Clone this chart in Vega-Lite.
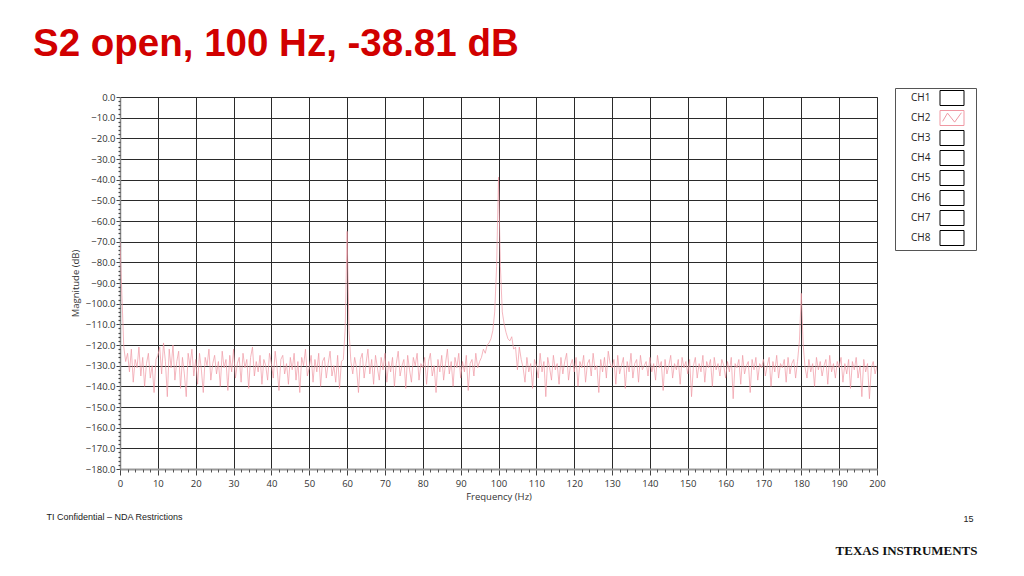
{
"$schema": "https://vega.github.io/schema/vega-lite/v6.json",
"width": 757, "height": 372,
"autosize": {"type": "none"},
"padding": {"left": 120, "top": 97, "right": 147, "bottom": 107},
"background": "white",
"config": {"view": {"stroke": "#777", "strokeWidth": 1}},
"title": {"text": "S2 open, 100 Hz, -38.81 dB", "anchor": "start", "frame": "group", "orient": "top", "dx": -87, "offset": -7, "baseline": "alphabetic", "font": "Liberation Sans", "fontSize": 38.5, "fontWeight": "bold", "color": "#d10000"},
"data": {"values": [
{"f":0,"m":-70,"ch":"CH2"},{"f":0.5,"m":-96,"ch":"CH2"},{"f":1,"m":-121,"ch":"CH2"},{"f":1.5,"m":-128,"ch":"CH2"},{"f":2,"m":-124,"ch":"CH2"},{"f":2.5,"m":-133,"ch":"CH2"},{"f":3,"m":-122,"ch":"CH2"},{"f":3.5,"m":-138,"ch":"CH2"},{"f":4,"m":-127,"ch":"CH2"},{"f":4.5,"m":-131,"ch":"CH2"},{"f":5,"m":-121,"ch":"CH2"},{"f":5.5,"m":-135,"ch":"CH2"},{"f":6,"m":-126,"ch":"CH2"},{"f":6.5,"m":-140,"ch":"CH2"},{"f":7,"m":-129,"ch":"CH2"},{"f":7.5,"m":-124,"ch":"CH2"},{"f":8,"m":-136,"ch":"CH2"},{"f":8.5,"m":-130,"ch":"CH2"},{"f":9,"m":-143,"ch":"CH2"},{"f":9.5,"m":-127,"ch":"CH2"},
{"f":10,"m":-125,"ch":"CH2"},{"f":10.5,"m":-121,"ch":"CH2"},{"f":11,"m":-134,"ch":"CH2"},{"f":11.5,"m":-119,"ch":"CH2"},{"f":12,"m":-128,"ch":"CH2"},{"f":12.5,"m":-145,"ch":"CH2"},{"f":13,"m":-122,"ch":"CH2"},{"f":13.5,"m":-131,"ch":"CH2"},{"f":14,"m":-120,"ch":"CH2"},{"f":14.5,"m":-137,"ch":"CH2"},{"f":15,"m":-128,"ch":"CH2"},{"f":15.5,"m":-123,"ch":"CH2"},{"f":16,"m":-141,"ch":"CH2"},{"f":16.5,"m":-126,"ch":"CH2"},{"f":17,"m":-134,"ch":"CH2"},{"f":17.5,"m":-145,"ch":"CH2"},{"f":18,"m":-124,"ch":"CH2"},{"f":18.5,"m":-130,"ch":"CH2"},{"f":19,"m":-122,"ch":"CH2"},{"f":19.5,"m":-135,"ch":"CH2"},
{"f":20,"m":-127,"ch":"CH2"},{"f":20.5,"m":-139,"ch":"CH2"},{"f":21,"m":-124,"ch":"CH2"},{"f":21.5,"m":-132,"ch":"CH2"},{"f":22,"m":-143,"ch":"CH2"},{"f":22.5,"m":-126,"ch":"CH2"},{"f":23,"m":-130,"ch":"CH2"},{"f":23.5,"m":-122,"ch":"CH2"},{"f":24,"m":-137,"ch":"CH2"},{"f":24.5,"m":-129,"ch":"CH2"},{"f":25,"m":-125,"ch":"CH2"},{"f":25.5,"m":-134,"ch":"CH2"},{"f":26,"m":-128,"ch":"CH2"},{"f":26.5,"m":-140,"ch":"CH2"},{"f":27,"m":-123,"ch":"CH2"},{"f":27.5,"m":-131,"ch":"CH2"},{"f":28,"m":-127,"ch":"CH2"},{"f":28.5,"m":-142,"ch":"CH2"},{"f":29,"m":-125,"ch":"CH2"},{"f":29.5,"m":-133,"ch":"CH2"},
{"f":30,"m":-122,"ch":"CH2"},{"f":30.5,"m":-136,"ch":"CH2"},{"f":31,"m":-129,"ch":"CH2"},{"f":31.5,"m":-126,"ch":"CH2"},{"f":32,"m":-138,"ch":"CH2"},{"f":32.5,"m":-124,"ch":"CH2"},{"f":33,"m":-131,"ch":"CH2"},{"f":33.5,"m":-127,"ch":"CH2"},{"f":34,"m":-141,"ch":"CH2"},{"f":34.5,"m":-126,"ch":"CH2"},{"f":35,"m":-121,"ch":"CH2"},{"f":35.5,"m":-135,"ch":"CH2"},{"f":36,"m":-128,"ch":"CH2"},{"f":36.5,"m":-133,"ch":"CH2"},{"f":37,"m":-125,"ch":"CH2"},{"f":37.5,"m":-139,"ch":"CH2"},{"f":38,"m":-127,"ch":"CH2"},{"f":38.5,"m":-130,"ch":"CH2"},{"f":39,"m":-137,"ch":"CH2"},{"f":39.5,"m":-124,"ch":"CH2"},
{"f":40,"m":-129,"ch":"CH2"},{"f":40.5,"m":-136,"ch":"CH2"},{"f":41,"m":-123,"ch":"CH2"},{"f":41.5,"m":-131,"ch":"CH2"},{"f":42,"m":-142,"ch":"CH2"},{"f":42.5,"m":-127,"ch":"CH2"},{"f":43,"m":-125,"ch":"CH2"},{"f":43.5,"m":-134,"ch":"CH2"},{"f":44,"m":-129,"ch":"CH2"},{"f":44.5,"m":-139,"ch":"CH2"},{"f":45,"m":-126,"ch":"CH2"},{"f":45.5,"m":-132,"ch":"CH2"},{"f":46,"m":-124,"ch":"CH2"},{"f":46.5,"m":-137,"ch":"CH2"},{"f":47,"m":-128,"ch":"CH2"},{"f":47.5,"m":-143,"ch":"CH2"},{"f":48,"m":-126,"ch":"CH2"},{"f":48.5,"m":-130,"ch":"CH2"},{"f":49,"m":-122,"ch":"CH2"},{"f":49.5,"m":-135,"ch":"CH2"},
{"f":50,"m":-131,"ch":"CH2"},{"f":50.5,"m":-125,"ch":"CH2"},{"f":51,"m":-138,"ch":"CH2"},{"f":51.5,"m":-127,"ch":"CH2"},{"f":52,"m":-133,"ch":"CH2"},{"f":52.5,"m":-124,"ch":"CH2"},{"f":53,"m":-140,"ch":"CH2"},{"f":53.5,"m":-128,"ch":"CH2"},{"f":54,"m":-126,"ch":"CH2"},{"f":54.5,"m":-136,"ch":"CH2"},{"f":55,"m":-129,"ch":"CH2"},{"f":55.5,"m":-123,"ch":"CH2"},{"f":56,"m":-135,"ch":"CH2"},{"f":56.5,"m":-130,"ch":"CH2"},{"f":57,"m":-138,"ch":"CH2"},{"f":57.5,"m":-125,"ch":"CH2"},{"f":58,"m":-141,"ch":"CH2"},{"f":58.5,"m":-128,"ch":"CH2"},{"f":59,"m":-127,"ch":"CH2"},{"f":59.5,"m":-112,"ch":"CH2"},
{"f":60,"m":-65,"ch":"CH2"},{"f":60.5,"m":-113,"ch":"CH2"},{"f":61,"m":-128,"ch":"CH2"},{"f":61.5,"m":-134,"ch":"CH2"},{"f":62,"m":-126,"ch":"CH2"},{"f":62.5,"m":-131,"ch":"CH2"},{"f":63,"m":-143,"ch":"CH2"},{"f":63.5,"m":-127,"ch":"CH2"},{"f":64,"m":-124,"ch":"CH2"},{"f":64.5,"m":-136,"ch":"CH2"},{"f":65,"m":-129,"ch":"CH2"},{"f":65.5,"m":-122,"ch":"CH2"},{"f":66,"m":-134,"ch":"CH2"},{"f":66.5,"m":-127,"ch":"CH2"},{"f":67,"m":-139,"ch":"CH2"},{"f":67.5,"m":-125,"ch":"CH2"},{"f":68,"m":-131,"ch":"CH2"},{"f":68.5,"m":-137,"ch":"CH2"},{"f":69,"m":-126,"ch":"CH2"},{"f":69.5,"m":-132,"ch":"CH2"},
{"f":70,"m":-124,"ch":"CH2"},{"f":70.5,"m":-138,"ch":"CH2"},{"f":71,"m":-128,"ch":"CH2"},{"f":71.5,"m":-133,"ch":"CH2"},{"f":72,"m":-126,"ch":"CH2"},{"f":72.5,"m":-140,"ch":"CH2"},{"f":73,"m":-129,"ch":"CH2"},{"f":73.5,"m":-123,"ch":"CH2"},{"f":74,"m":-135,"ch":"CH2"},{"f":74.5,"m":-130,"ch":"CH2"},{"f":75,"m":-127,"ch":"CH2"},{"f":75.5,"m":-141,"ch":"CH2"},{"f":76,"m":-125,"ch":"CH2"},{"f":76.5,"m":-132,"ch":"CH2"},{"f":77,"m":-138,"ch":"CH2"},{"f":77.5,"m":-126,"ch":"CH2"},{"f":78,"m":-130,"ch":"CH2"},{"f":78.5,"m":-124,"ch":"CH2"},{"f":79,"m":-137,"ch":"CH2"},{"f":79.5,"m":-129,"ch":"CH2"},
{"f":80,"m":-131,"ch":"CH2"},{"f":80.5,"m":-126,"ch":"CH2"},{"f":81,"m":-139,"ch":"CH2"},{"f":81.5,"m":-128,"ch":"CH2"},{"f":82,"m":-124,"ch":"CH2"},{"f":82.5,"m":-135,"ch":"CH2"},{"f":83,"m":-130,"ch":"CH2"},{"f":83.5,"m":-143,"ch":"CH2"},{"f":84,"m":-127,"ch":"CH2"},{"f":84.5,"m":-133,"ch":"CH2"},{"f":85,"m":-125,"ch":"CH2"},{"f":85.5,"m":-137,"ch":"CH2"},{"f":86,"m":-129,"ch":"CH2"},{"f":86.5,"m":-122,"ch":"CH2"},{"f":87,"m":-134,"ch":"CH2"},{"f":87.5,"m":-128,"ch":"CH2"},{"f":88,"m":-140,"ch":"CH2"},{"f":88.5,"m":-126,"ch":"CH2"},{"f":89,"m":-131,"ch":"CH2"},{"f":89.5,"m":-124,"ch":"CH2"},
{"f":90,"m":-136,"ch":"CH2"},{"f":90.5,"m":-128,"ch":"CH2"},{"f":91,"m":-133,"ch":"CH2"},{"f":91.5,"m":-125,"ch":"CH2"},{"f":92,"m":-142,"ch":"CH2"},{"f":92.5,"m":-129,"ch":"CH2"},{"f":93,"m":-127,"ch":"CH2"},{"f":93.5,"m":-135,"ch":"CH2"},{"f":94,"m":-124,"ch":"CH2"},{"f":94.5,"m":-131,"ch":"CH2"},{"f":95,"m":-128,"ch":"CH2"},{"f":95.5,"m":-126,"ch":"CH2"},{"f":96,"m":-122,"ch":"CH2"},{"f":96.5,"m":-124,"ch":"CH2"},{"f":97,"m":-120,"ch":"CH2"},{"f":97.5,"m":-119,"ch":"CH2"},{"f":98,"m":-117,"ch":"CH2"},{"f":98.5,"m":-113,"ch":"CH2"},{"f":99,"m":-104,"ch":"CH2"},{"f":99.5,"m":-82,"ch":"CH2"},
{"f":100,"m":-38.81,"ch":"CH2"},{"f":100.5,"m":-82,"ch":"CH2"},{"f":101,"m":-104,"ch":"CH2"},{"f":101.5,"m":-110,"ch":"CH2"},{"f":102,"m":-114,"ch":"CH2"},{"f":102.5,"m":-117,"ch":"CH2"},{"f":103,"m":-118,"ch":"CH2"},{"f":103.5,"m":-116,"ch":"CH2"},{"f":104,"m":-122,"ch":"CH2"},{"f":104.5,"m":-121,"ch":"CH2"},{"f":105,"m":-132,"ch":"CH2"},{"f":105.5,"m":-121,"ch":"CH2"},{"f":106,"m":-127,"ch":"CH2"},{"f":106.5,"m":-131,"ch":"CH2"},{"f":107,"m":-138,"ch":"CH2"},{"f":107.5,"m":-126,"ch":"CH2"},{"f":108,"m":-133,"ch":"CH2"},{"f":108.5,"m":-129,"ch":"CH2"},{"f":109,"m":-141,"ch":"CH2"},{"f":109.5,"m":-127,"ch":"CH2"},
{"f":110,"m":-130,"ch":"CH2"},{"f":110.5,"m":-136,"ch":"CH2"},{"f":111,"m":-124,"ch":"CH2"},{"f":111.5,"m":-133,"ch":"CH2"},{"f":112,"m":-128,"ch":"CH2"},{"f":112.5,"m":-145,"ch":"CH2"},{"f":113,"m":-126,"ch":"CH2"},{"f":113.5,"m":-131,"ch":"CH2"},{"f":114,"m":-137,"ch":"CH2"},{"f":114.5,"m":-125,"ch":"CH2"},{"f":115,"m":-132,"ch":"CH2"},{"f":115.5,"m":-129,"ch":"CH2"},{"f":116,"m":-139,"ch":"CH2"},{"f":116.5,"m":-126,"ch":"CH2"},{"f":117,"m":-134,"ch":"CH2"},{"f":117.5,"m":-128,"ch":"CH2"},{"f":118,"m":-124,"ch":"CH2"},{"f":118.5,"m":-137,"ch":"CH2"},{"f":119,"m":-130,"ch":"CH2"},{"f":119.5,"m":-127,"ch":"CH2"},
{"f":120,"m":-133,"ch":"CH2"},{"f":120.5,"m":-126,"ch":"CH2"},{"f":121,"m":-140,"ch":"CH2"},{"f":121.5,"m":-128,"ch":"CH2"},{"f":122,"m":-131,"ch":"CH2"},{"f":122.5,"m":-125,"ch":"CH2"},{"f":123,"m":-138,"ch":"CH2"},{"f":123.5,"m":-129,"ch":"CH2"},{"f":124,"m":-127,"ch":"CH2"},{"f":124.5,"m":-135,"ch":"CH2"},{"f":125,"m":-124,"ch":"CH2"},{"f":125.5,"m":-132,"ch":"CH2"},{"f":126,"m":-130,"ch":"CH2"},{"f":126.5,"m":-143,"ch":"CH2"},{"f":127,"m":-127,"ch":"CH2"},{"f":127.5,"m":-133,"ch":"CH2"},{"f":128,"m":-126,"ch":"CH2"},{"f":128.5,"m":-136,"ch":"CH2"},{"f":129,"m":-123,"ch":"CH2"},{"f":129.5,"m":-129,"ch":"CH2"},
{"f":130,"m":-131,"ch":"CH2"},{"f":130.5,"m":-127,"ch":"CH2"},{"f":131,"m":-139,"ch":"CH2"},{"f":131.5,"m":-125,"ch":"CH2"},{"f":132,"m":-134,"ch":"CH2"},{"f":132.5,"m":-130,"ch":"CH2"},{"f":133,"m":-126,"ch":"CH2"},{"f":133.5,"m":-141,"ch":"CH2"},{"f":134,"m":-128,"ch":"CH2"},{"f":134.5,"m":-133,"ch":"CH2"},{"f":135,"m":-124,"ch":"CH2"},{"f":135.5,"m":-136,"ch":"CH2"},{"f":136,"m":-129,"ch":"CH2"},{"f":136.5,"m":-127,"ch":"CH2"},{"f":137,"m":-138,"ch":"CH2"},{"f":137.5,"m":-125,"ch":"CH2"},{"f":138,"m":-132,"ch":"CH2"},{"f":138.5,"m":-130,"ch":"CH2"},{"f":139,"m":-128,"ch":"CH2"},{"f":139.5,"m":-135,"ch":"CH2"},
{"f":140,"m":-126,"ch":"CH2"},{"f":140.5,"m":-133,"ch":"CH2"},{"f":141,"m":-129,"ch":"CH2"},{"f":141.5,"m":-137,"ch":"CH2"},{"f":142,"m":-125,"ch":"CH2"},{"f":142.5,"m":-131,"ch":"CH2"},{"f":143,"m":-128,"ch":"CH2"},{"f":143.5,"m":-142,"ch":"CH2"},{"f":144,"m":-127,"ch":"CH2"},{"f":144.5,"m":-134,"ch":"CH2"},{"f":145,"m":-130,"ch":"CH2"},{"f":145.5,"m":-125,"ch":"CH2"},{"f":146,"m":-136,"ch":"CH2"},{"f":146.5,"m":-129,"ch":"CH2"},{"f":147,"m":-132,"ch":"CH2"},{"f":147.5,"m":-127,"ch":"CH2"},{"f":148,"m":-139,"ch":"CH2"},{"f":148.5,"m":-126,"ch":"CH2"},{"f":149,"m":-131,"ch":"CH2"},{"f":149.5,"m":-128,"ch":"CH2"},
{"f":150,"m":-134,"ch":"CH2"},{"f":150.5,"m":-127,"ch":"CH2"},{"f":151,"m":-145,"ch":"CH2"},{"f":151.5,"m":-130,"ch":"CH2"},{"f":152,"m":-126,"ch":"CH2"},{"f":152.5,"m":-136,"ch":"CH2"},{"f":153,"m":-129,"ch":"CH2"},{"f":153.5,"m":-133,"ch":"CH2"},{"f":154,"m":-125,"ch":"CH2"},{"f":154.5,"m":-138,"ch":"CH2"},{"f":155,"m":-128,"ch":"CH2"},{"f":155.5,"m":-131,"ch":"CH2"},{"f":156,"m":-127,"ch":"CH2"},{"f":156.5,"m":-140,"ch":"CH2"},{"f":157,"m":-126,"ch":"CH2"},{"f":157.5,"m":-132,"ch":"CH2"},{"f":158,"m":-129,"ch":"CH2"},{"f":158.5,"m":-135,"ch":"CH2"},{"f":159,"m":-127,"ch":"CH2"},{"f":159.5,"m":-130,"ch":"CH2"},
{"f":160,"m":-136,"ch":"CH2"},{"f":160.5,"m":-128,"ch":"CH2"},{"f":161,"m":-133,"ch":"CH2"},{"f":161.5,"m":-126,"ch":"CH2"},{"f":162,"m":-146,"ch":"CH2"},{"f":162.5,"m":-129,"ch":"CH2"},{"f":163,"m":-131,"ch":"CH2"},{"f":163.5,"m":-127,"ch":"CH2"},{"f":164,"m":-139,"ch":"CH2"},{"f":164.5,"m":-125,"ch":"CH2"},{"f":165,"m":-134,"ch":"CH2"},{"f":165.5,"m":-130,"ch":"CH2"},{"f":166,"m":-128,"ch":"CH2"},{"f":166.5,"m":-143,"ch":"CH2"},{"f":167,"m":-127,"ch":"CH2"},{"f":167.5,"m":-132,"ch":"CH2"},{"f":168,"m":-126,"ch":"CH2"},{"f":168.5,"m":-137,"ch":"CH2"},{"f":169,"m":-129,"ch":"CH2"},{"f":169.5,"m":-131,"ch":"CH2"},
{"f":170,"m":-127,"ch":"CH2"},{"f":170.5,"m":-135,"ch":"CH2"},{"f":171,"m":-130,"ch":"CH2"},{"f":171.5,"m":-126,"ch":"CH2"},{"f":172,"m":-140,"ch":"CH2"},{"f":172.5,"m":-128,"ch":"CH2"},{"f":173,"m":-133,"ch":"CH2"},{"f":173.5,"m":-125,"ch":"CH2"},{"f":174,"m":-136,"ch":"CH2"},{"f":174.5,"m":-129,"ch":"CH2"},{"f":175,"m":-131,"ch":"CH2"},{"f":175.5,"m":-127,"ch":"CH2"},{"f":176,"m":-138,"ch":"CH2"},{"f":176.5,"m":-126,"ch":"CH2"},{"f":177,"m":-134,"ch":"CH2"},{"f":177.5,"m":-129,"ch":"CH2"},{"f":178,"m":-127,"ch":"CH2"},{"f":178.5,"m":-136,"ch":"CH2"},{"f":179,"m":-128,"ch":"CH2"},{"f":179.5,"m":-118,"ch":"CH2"},
{"f":180,"m":-95,"ch":"CH2"},{"f":180.5,"m":-120,"ch":"CH2"},{"f":181,"m":-131,"ch":"CH2"},{"f":181.5,"m":-136,"ch":"CH2"},{"f":182,"m":-127,"ch":"CH2"},{"f":182.5,"m":-133,"ch":"CH2"},{"f":183,"m":-129,"ch":"CH2"},{"f":183.5,"m":-140,"ch":"CH2"},{"f":184,"m":-126,"ch":"CH2"},{"f":184.5,"m":-132,"ch":"CH2"},{"f":185,"m":-128,"ch":"CH2"},{"f":185.5,"m":-135,"ch":"CH2"},{"f":186,"m":-130,"ch":"CH2"},{"f":186.5,"m":-127,"ch":"CH2"},{"f":187,"m":-139,"ch":"CH2"},{"f":187.5,"m":-125,"ch":"CH2"},{"f":188,"m":-133,"ch":"CH2"},{"f":188.5,"m":-129,"ch":"CH2"},{"f":189,"m":-136,"ch":"CH2"},{"f":189.5,"m":-128,"ch":"CH2"},
{"f":190,"m":-131,"ch":"CH2"},{"f":190.5,"m":-126,"ch":"CH2"},{"f":191,"m":-138,"ch":"CH2"},{"f":191.5,"m":-129,"ch":"CH2"},{"f":192,"m":-134,"ch":"CH2"},{"f":192.5,"m":-127,"ch":"CH2"},{"f":193,"m":-141,"ch":"CH2"},{"f":193.5,"m":-128,"ch":"CH2"},{"f":194,"m":-132,"ch":"CH2"},{"f":194.5,"m":-126,"ch":"CH2"},{"f":195,"m":-136,"ch":"CH2"},{"f":195.5,"m":-130,"ch":"CH2"},{"f":196,"m":-145,"ch":"CH2"},{"f":196.5,"m":-127,"ch":"CH2"},{"f":197,"m":-133,"ch":"CH2"},{"f":197.5,"m":-129,"ch":"CH2"},{"f":198,"m":-146,"ch":"CH2"},{"f":198.5,"m":-131,"ch":"CH2"},{"f":199,"m":-128,"ch":"CH2"},{"f":199.5,"m":-134,"ch":"CH2"},
{"f":200,"m":-130,"ch":"CH2"}
]},
"layer": [
{
"mark": {"type": "line", "strokeWidth": 0.7, "clip": true},
"encoding": {
"x": {"field": "f", "type": "quantitative", "scale": {"domain": [0, 200], "nice": false, "zero": false},
 "axis": {"orient": "bottom", "values": [0,10,20,30,40,50,60,70,80,90,100,110,120,130,140,150,160,170,180,190,200], "format": "d", "labelFlush": false, "labelOverlap": false, "grid": true, "gridColor": "#2a2a2a", "gridWidth": 1, "gridOpacity": 1, "domain": true, "domainColor": "#999", "domainWidth": 2, "ticks": true, "tickColor": "#444", "tickSize": 6, "labelFont": "Open Sans", "labelFontSize": 9.5, "labelColor": "#333", "labelPadding": 3, "title": "Frequency (Hz)", "titleFont": "Open Sans", "titleFontSize": 9.5, "titleFontWeight": "normal", "titleColor": "#333", "titlePadding": 4}},
"y": {"field": "m", "type": "quantitative", "scale": {"domain": [-180, 0], "nice": false, "zero": false},
 "axis": {"orient": "left", "values": [-180,-170,-160,-150,-140,-130,-120,-110,-100,-90,-80,-70,-60,-50,-40,-30,-20,-10,0], "format": ".1f", "labelFlush": false, "labelOverlap": false, "grid": true, "gridColor": "#2a2a2a", "gridWidth": 1, "gridOpacity": 1, "domain": true, "domainColor": "#888", "domainWidth": 1.5, "ticks": true, "tickColor": "#444", "tickSize": 4, "labelFont": "Open Sans", "labelFontSize": 9.5, "labelColor": "#333", "labelPadding": 1, "title": "Magnitude (dB)", "titleFont": "Open Sans", "titleFontSize": 9.5, "titleFontWeight": "normal", "titleColor": "#333", "titlePadding": 5}},
"color": {"field": "ch", "type": "nominal",
 "scale": {"domain": ["CH1","CH2","CH3","CH4","CH5","CH6","CH7","CH8"], "range": ["#000000","#ef98a3","#000000","#000000","#000000","#000000","#000000","#000000"]},
 "legend": {"orient": "none", "legendX": 775, "legendY": -9, "title": "x", "titleOpacity": 0, "titleOrient": "right", "titleFontSize": 6, "titlePadding": 4, "padding": 2, "strokeColor": "#555", "fillColor": "#ffffff", "symbolType": "M-1.6,-1H1.6V1H-1.6Z", "symbolSize": 225, "symbolStrokeWidth": 1, "symbolStrokeColor": "#222", "symbolFillColor": "#ffffff", "symbolOffset": 47, "labelOffset": -49, "rowPadding": 0, "labelFont": "Open Sans", "labelFontSize": 10, "labelColor": "#222",
  "encode": {"symbols": {"update": {"shape": [{"test": "datum.value === 'CH2'", "value": "M-1.6,-1H1.6V1H-1.6Z M-1.25,0.45L-0.6,-0.65L0.35,0.55L1.25,-0.7"}, {"value": "M-1.6,-1H1.6V1H-1.6Z"}], "stroke": {"value": "#222"}, "fill": {"value": "#ffffff"}, "strokeWidth": {"value": 1}, "opacity": {"value": 1}}}}}}
}
},
{
"mark": {"type": "point", "opacity": 0},
"encoding": {
"x": {"field": "f", "type": "quantitative",
 "axis": {"orient": "bottom", "values": [2,4,6,8,12,14,16,18,22,24,26,28,32,34,36,38,42,44,46,48,52,54,56,58,62,64,66,68,72,74,76,78,82,84,86,88,92,94,96,98,102,104,106,108,112,114,116,118,122,124,126,128,132,134,136,138,142,144,146,148,152,154,156,158,162,164,166,168,172,174,176,178,182,184,186,188,192,194,196,198], "grid": false, "domain": false, "labels": false, "ticks": true, "tickColor": "#555", "tickSize": 3, "title": "TI Confidential – NDA Restrictions", "titleX": -74, "titleY": 50, "titleAlign": "left", "titleBaseline": "alphabetic", "titleFont": "Liberation Sans", "titleFontSize": 9, "titleFontWeight": "normal", "titleColor": "#222"}},
"y": {"field": "m", "type": "quantitative",
 "axis": {"orient": "left", "values": [-178,-176,-174,-172,-168,-166,-164,-162,-158,-156,-154,-152,-148,-146,-144,-142,-138,-136,-134,-132,-128,-126,-124,-122,-118,-116,-114,-112,-108,-106,-104,-102,-98,-96,-94,-92,-88,-86,-84,-82,-78,-76,-74,-72,-68,-66,-64,-62,-58,-56,-54,-52,-48,-46,-44,-42,-38,-36,-34,-32,-28,-26,-24,-22,-18,-16,-14,-12,-8,-6,-4,-2], "grid": false, "domain": false, "labels": false, "ticks": true, "tickColor": "#444", "tickSize": 2, "tickWidth": 1.2, "title": "15", "titleAngle": 0, "titleX": 848, "titleY": 424, "titleAlign": "center", "titleBaseline": "alphabetic", "titleFont": "Liberation Sans", "titleFontSize": 9, "titleFontWeight": "normal", "titleColor": "#222"}}
}
},
{
"mark": {"type": "point", "opacity": 0},
"encoding": {
"x": {"field": "f", "type": "quantitative", "axis": null},
"y": {"field": "m", "type": "quantitative",
 "axis": {"orient": "right", "grid": false, "domain": false, "labels": false, "ticks": false, "title": "TEXAS INSTRUMENTS", "titleAngle": 0, "titleX": 100, "titleY": 457, "titleAlign": "right", "titleBaseline": "alphabetic", "titleFont": "Liberation Serif", "titleFontSize": 13, "titleFontWeight": "bold", "titleColor": "#111"}}
}
}
],
"resolve": {"axis": {"x": "independent", "y": "independent"}}
}
